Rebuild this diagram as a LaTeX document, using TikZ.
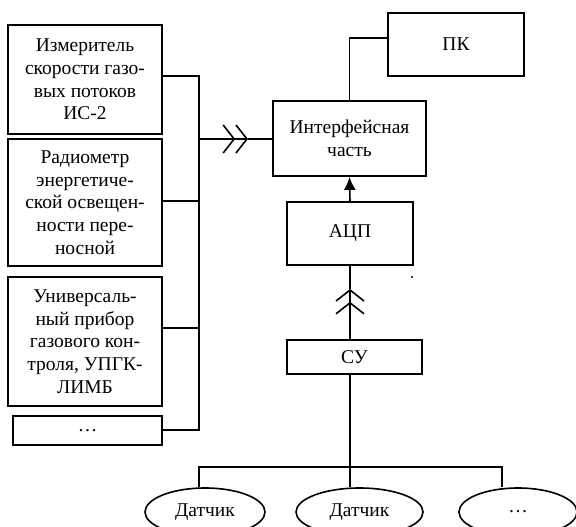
\documentclass[tikz,border=0pt]{standalone}
\usepackage{fontspec}
\setmainfont{Liberation Serif}
\usetikzlibrary{shapes.geometric,arrows.meta}

\tikzset{
  box/.style={draw, line width=1.8pt, align=center, inner sep=0pt},
  sensor/.style={draw, ellipse, line width=1.6pt, inner sep=0pt, minimum height=48pt},
  wire/.style={line width=1.6pt},
  chev/.style={-{Straight Barb[length=11pt,width=28pt]Straight Barb[length=11pt,width=28pt]}},
}

\begin{document}
\begin{tikzpicture}[x = 1pt, y = -1pt, font=\fontsize{19.5}{22.7}\selectfont]
\useasboundingbox (0, 0) rectangle (576, 527);
\clip (0, 0) rectangle (576, 527);
% instruments
\node[box, minimum width=154pt, minimum height=109pt] (m1) at (85, 79.5) {Измеритель\\скорости газо-\\вых потоков\\ИС-2};
\node[box, minimum width=154pt, minimum height=127pt] (m2) at (85, 202.5) {Радиометр\\энергетиче-\\ской освещен-\\ности пере-\\носной};
\node[box, minimum width=154pt, minimum height=129pt] (m3) at (85, 341.5) {Универсаль-\\ный прибор\\газового кон-\\троля, УПГК-\\ЛИМБ};
\node[box, minimum width=149pt, minimum height=29pt] (m4) at (87.5, 430.5) {\ldots};
% main column
\node[box, minimum width=153pt, minimum height=75pt] (iface) at (349.5, 138.5) {Интерфейсная\\часть};
\node[box, minimum width=136pt, minimum height=63pt] (pk) at (456, 44.5) {ПК};
\node[box, minimum width=126pt, minimum height=63pt] (adc) at (350, 233.5) {АЦП};
\node[box, minimum width=135pt, minimum height=34pt] (cu) at (354.5, 357) {СУ};
% sensors
\node[sensor, minimum width=120pt] (s1) at (205, 512) {Датчик};
\node[sensor, minimum width=127pt] (s2) at (359.5, 512) {Датчик};
\node[sensor, minimum width=118pt] (s3) at (518, 512) {\ldots};
% bus
\coordinate (bus1) at (199, 76);
\coordinate (bus4) at (199, 430);
\coordinate (busmid) at (199, 139);
\coordinate (tip1) at (248, 139);
\draw[wire] (m1.east |- bus1) -- (bus1) -- (bus4) -- (m4.east |- bus4);
\draw[wire] (m2.east |- 0, 201) -- (199, 201);
\draw[wire] (m3.east |- 0, 328) -- (199, 328);
\draw[wire, chev] (busmid) -- (tip1);
\draw[wire] (tip1) -- (iface.west |- tip1);
\draw[wire] (iface.north) |- ([yshift=6.5pt]pk.west);
\draw[wire, -{Latex[length=13pt, width=12pt]}] (adc.north) -- (iface.south);
\coordinate (tip2) at (350, 289);
\draw[wire, chev] (cu.north -| tip2) -- (tip2);
\draw[wire] (tip2) -- (adc.south -| tip2);
\fill (412, 277) circle (1.2pt);
% sensor fork
\coordinate (fork) at (350, 467);
\coordinate (f1) at (199, 467);
\coordinate (f3) at (502, 467);
\draw[wire] (cu.south -| fork) -- (fork);
\draw[wire] (s1.north -| f1) -- (f1) -- (f3) -- (s3.north -| f3);
\draw[wire] (fork) -- (s2.north -| fork);
\end{tikzpicture}
\end{document}
